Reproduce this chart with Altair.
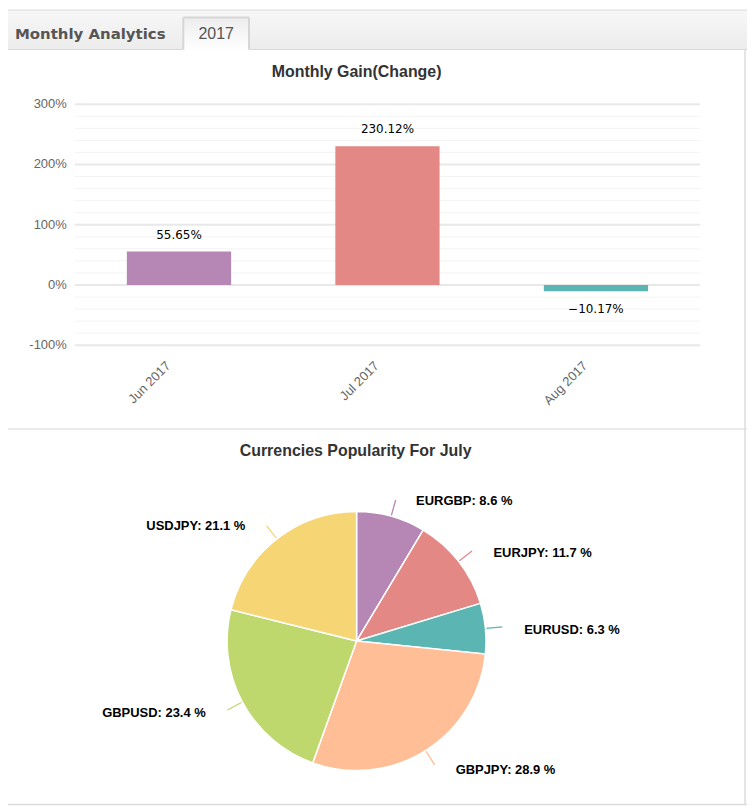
import altair as alt
import pandas as pd

# ---------------- data ----------------
months = ["Jun 2017", "Jul 2017", "Aug 2017"]
gains = [55.65, 230.12, -10.17]
bar_colors = ["#B687B5", "#E38885", "#5BB5B3"]

currencies = ["EURGBP", "EURJPY", "EURUSD", "GBPJPY", "GBPUSD", "USDJPY"]
shares = [8.6, 11.7, 6.3, 28.9, 23.4, 21.1]
pie_colors = ["#B687B5", "#E38885", "#5AB5B3", "#FFBE95", "#BFD86E", "#F5D574"]

y_major = [-100, 0, 100, 200, 300]
y_minor = [-80, -60, -40, -20, 20, 40, 60, 80, 120, 140, 160, 180, 220, 240, 260, 280]

tab_labels = ["Monthly Analytics", "2017"]
titles = ["Monthly Gain(Change)", "Currencies Popularity For July"]

# ---------------- tables ----------------
bars_df = pd.DataFrame({"month": months, "gain": gains})
pie_df = pd.DataFrame({"cur": currencies, "share": shares, "idx": list(range(len(currencies)))})
major_df = pd.DataFrame({"v": y_major})
minor_df = pd.DataFrame({"v": y_minor})
one = pd.DataFrame({"k": [0]})

W, H = 742, 800
x_scale = alt.Scale(domain=months, range=[67, 695], paddingInner=0.5, paddingOuter=0.25)
y_scale = alt.Scale(domain=[-100, 300], range=[337, 95], nice=False, zero=False)
X = alt.X("month:N", scale=x_scale, sort=months, axis=None)

# ---------------- header / frame ----------------
band = alt.Chart(one).mark_rect(
    fill=alt.Gradient(gradient="linear", x1=0, x2=0, y1=0, y2=1,
                      stops=[alt.GradientStop(color="#f7f7f7", offset=0),
                             alt.GradientStop(color="#ececec", offset=1)])
).encode(x=alt.value(0), x2=alt.value(W), y=alt.value(0), y2=alt.value(40))

band_top = alt.Chart(one).mark_rule(color="#dddddd", strokeWidth=1).encode(
    x=alt.value(0), x2=alt.value(W), y=alt.value(0.5))
band_bottom = alt.Chart(one).mark_rule(color="#d8d8d8", strokeWidth=1).encode(
    x=alt.value(0), x2=alt.value(W), y=alt.value(40))

tab = alt.Chart(one).mark_rect(
    fill=alt.Gradient(gradient="linear", x1=0, x2=0, y1=0, y2=1,
                      stops=[alt.GradientStop(color="#ededed", offset=0),
                             alt.GradientStop(color="#ffffff", offset=1)])
).encode(x=alt.value(176), x2=alt.value(242), y=alt.value(8), y2=alt.value(41))
tab_l = alt.Chart(one).mark_rule(color="#d6d6d6", strokeWidth=2).encode(
    x=alt.value(176), y=alt.value(8), y2=alt.value(40))
tab_r = alt.Chart(one).mark_rule(color="#d6d6d6", strokeWidth=2).encode(
    x=alt.value(242), y=alt.value(8), y2=alt.value(40))
tab_t = alt.Chart(one).mark_rule(color="#d6d6d6", strokeWidth=2).encode(
    x=alt.value(176), x2=alt.value(242), y=alt.value(8))

head_txt = alt.Chart(pd.DataFrame({"t": [tab_labels[0]]})).mark_text(
    font="DejaVu Sans", fontSize=15, fontWeight="bold", color="#555555",
    align="left", baseline="middle"
).encode(x=alt.value(7), y=alt.value(24), text="t:N")
tab_txt = alt.Chart(pd.DataFrame({"t": [tab_labels[1]]})).mark_text(
    font="Liberation Sans", fontSize=16, color="#555555",
    align="center", baseline="middle"
).encode(x=alt.value(209), y=alt.value(25), text="t:N")

sep = alt.Chart(one).mark_rule(color="#e4e4e4", strokeWidth=1.5).encode(
    x=alt.value(0), x2=alt.value(W), y=alt.value(421))
right_border = alt.Chart(one).mark_rule(color="#dcdcdc", strokeWidth=1.5).encode(
    x=alt.value(740), y=alt.value(40), y2=alt.value(798))
bottom_border = alt.Chart(one).mark_rule(color="#dcdcdc", strokeWidth=1.5).encode(
    x=alt.value(0), x2=alt.value(W), y=alt.value(798))

title1 = alt.Chart(pd.DataFrame({"t": [titles[0]]})).mark_text(
    font="Liberation Sans", fontSize=16, fontWeight="bold", color="#333333",
    align="center", baseline="middle"
).encode(x=alt.value(350), y=alt.value(63), text="t:N")
title2 = alt.Chart(pd.DataFrame({"t": [titles[1]]})).mark_text(
    font="Liberation Sans", fontSize=16, fontWeight="bold", color="#333333",
    align="center", baseline="middle"
).encode(x=alt.value(349), y=alt.value(443), text="t:N")

# ---------------- bar chart ----------------
grid_minor = alt.Chart(minor_df).mark_rule(color="#f3f3f3", strokeWidth=1).encode(
    x=alt.value(67), x2=alt.value(695), y=alt.Y("v:Q", scale=y_scale, axis=None))
grid_major = alt.Chart(major_df).mark_rule(color="#e8e8e8", strokeWidth=2).encode(
    x=alt.value(67), x2=alt.value(695), y=alt.Y("v:Q", scale=y_scale, axis=None))
y_labels = alt.Chart(major_df).transform_calculate(
    lab="datum.v + '%'"
).mark_text(font="Liberation Sans", fontSize=13, color="#666666",
            align="right", baseline="middle").encode(
    x=alt.value(59), y=alt.Y("v:Q", scale=y_scale, axis=None), text="lab:N")

bars = alt.Chart(bars_df).mark_bar().encode(
    x=X,
    y=alt.Y("gain:Q", scale=y_scale, axis=None),
    color=alt.Color("month:N", scale=alt.Scale(domain=months, range=bar_colors), legend=None),
)

val_pos = alt.Chart(bars_df).transform_filter("datum.gain >= 0").transform_calculate(
    lab="format(datum.gain, '.2f') + '%'"
).mark_text(font="DejaVu Sans", fontSize=12, color="#000000", dy=-17, baseline="middle").encode(
    x=X, y=alt.Y("gain:Q", scale=y_scale, axis=None), text="lab:N")
val_neg = alt.Chart(bars_df).transform_filter("datum.gain < 0").transform_calculate(
    lab="format(datum.gain, '.2f') + '%'"
).mark_text(font="DejaVu Sans", fontSize=12, color="#000000", dy=18, baseline="middle").encode(
    x=X, y=alt.Y("gain:Q", scale=y_scale, axis=None), text="lab:N")

x_labels = alt.Chart(bars_df).mark_text(
    font="Liberation Sans", fontSize=13, color="#666666", angle=315,
    align="right", baseline="middle", dx=-15
).encode(x=X, y=alt.value(345), text="month:N")

# ---------------- pie chart ----------------
pie_base = alt.Chart(pie_df).transform_window(
    cum="sum(share)", sort=[alt.SortField("idx")], frame=[None, 0]
).transform_joinaggregate(
    total="sum(share)"
).transform_calculate(
    a0="2*PI*(datum.cum - datum.share)/datum.total",
    a1="2*PI*datum.cum/datum.total",
    mid="PI*(2*datum.cum - datum.share)/datum.total",
    lab="datum.cur + ': ' + format(datum.share, '.1f') + ' %'",
)

CX, CY = 350, 634
slices = pie_base.mark_arc(radius=130, stroke="white", strokeWidth=1.5).encode(
    theta=alt.Theta("a0:Q", scale=None, stack=None),
    theta2="a1:Q",
    fill=alt.Fill("cur:N", scale=alt.Scale(domain=currencies, range=pie_colors), legend=None),
    x=alt.value(CX), y=alt.value(CY),
)
connectors = pie_base.mark_arc(radius=147, radius2=131, filled=False, strokeWidth=1.3).encode(
    theta=alt.Theta("mid:Q", scale=None, stack=None),
    theta2="mid:Q",
    stroke=alt.Stroke("cur:N", scale=alt.Scale(domain=currencies, range=pie_colors), legend=None),
    x=alt.value(CX), y=alt.value(CY),
)
lab_right = pie_base.transform_filter("datum.mid < PI").mark_text(
    font="Liberation Sans", fontSize=13, fontWeight="bold", color="#000000",
    align="left", baseline="middle", radius=149, dx=20, dy=3
).encode(theta=alt.Theta("mid:Q", scale=None, stack=None),
         x=alt.value(CX), y=alt.value(CY), text="lab:N")
lab_left = pie_base.transform_filter("datum.mid >= PI").mark_text(
    font="Liberation Sans", fontSize=13, fontWeight="bold", color="#000000",
    align="right", baseline="middle", radius=149, dx=-20, dy=2
).encode(theta=alt.Theta("mid:Q", scale=None, stack=None),
         x=alt.value(CX), y=alt.value(CY), text="lab:N")

chart = alt.layer(
    band, band_top, band_bottom, tab, tab_l, tab_r, tab_t, head_txt, tab_txt,
    sep, right_border, bottom_border, title1, title2,
    grid_minor, grid_major, y_labels, bars, val_pos, val_neg, x_labels,
    slices, connectors, lab_right, lab_left,
).properties(
    width=W, height=H, padding=0, autosize="none", background="white"
).configure_view(stroke=None)

chart.save("out.html", embed_options={"renderer": "svg", "actions": False})
